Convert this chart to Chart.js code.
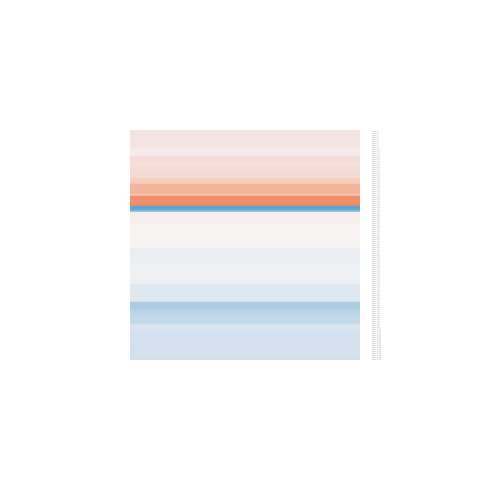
<!DOCTYPE html>
<html>
<head>
<meta charset="utf-8">
<script src="https://cdn.jsdelivr.net/npm/chart.js@4/dist/chart.umd.min.js"></script>
<style>
html,body{margin:0;padding:0;background:#fff;}
#wrap{width:480px;height:480px;}
</style>
</head>
<body>
<div id="wrap"><canvas id="c" width="480" height="480"></canvas></div>
<script>
// Row values (diverging, -1 = blue, +1 = red), top to bottom
const rowValues = [
  0.22,0.22,0.23,0.22,0.20,0.21,0.22,0.22,0.21,
  0.12,0.11,0.12,0.13,
  0.27,0.26,0.28,0.27,0.25,0.27,0.28,0.26,0.27,0.29,0.28,
  0.36,0.38,0.40,
  0.55,0.56,0.54,0.55,0.56,
  0.43,
  0.95,0.97,0.92,0.96,0.98,
  -1.00,-0.98,
  -0.80,
  0.08,0.08,0.09,0.07,0.08,0.08,
  0.03,0.02,0.02,0.01,0.02,0.03,0.02,0.01,0.02,0.02,0.03,0.02,
  -0.12,-0.12,-0.13,-0.12,-0.11,-0.12,-0.12,-0.13,
  -0.09,-0.09,-0.08,-0.09,-0.10,-0.09,-0.09,-0.08,-0.09,-0.09,
  -0.22,-0.22,-0.21,-0.22,-0.23,-0.22,-0.22,-0.21,-0.22,
  -0.50,-0.51,-0.50,-0.49,
  -0.42,-0.43,-0.42,
  -0.38,-0.38,-0.39,-0.38,
  -0.26,-0.26,-0.27,-0.26,
  -0.29,-0.29,-0.30,-0.29,-0.28,-0.29,-0.29,-0.30,-0.29,-0.29,-0.28,-0.29,-0.29,-0.30
];
// Row labels (one per row)
const rowLabels = rowValues.map((v, i) => 'item ' + (i + 1));

// diverging colour stops
const stops = [
  [-1.00, [90,166,210]],
  [-0.50, [171,205,227]],
  [-0.22, [223,232,240]],
  [ 0.00, [247,245,244]],
  [ 0.22, [244,227,223]],
  [ 0.55, [243,181,155]],
  [ 1.00, [240,138,99]]
];
function colorFor(v){
  if (v <= stops[0][0]) return 'rgb(' + stops[0][1].join(',') + ')';
  for (let i = 1; i < stops.length; i++){
    if (v <= stops[i][0]){
      const [v0,c0] = stops[i-1], [v1,c1] = stops[i];
      const t = (v - v0) / (v1 - v0);
      const c = c0.map((x,k) => Math.round(x + (c1[k]-x)*t));
      return 'rgb(' + c.join(',') + ')';
    }
  }
  return 'rgb(' + stops[stops.length-1][1].join(',') + ')';
}

new Chart(document.getElementById('c'), {
  type: 'bar',
  data: {
    labels: rowLabels,
    datasets: [{
      data: rowValues.map(() => [0, 1]),
      backgroundColor: rowValues.map(colorFor),
      borderWidth: 0,
      categoryPercentage: 1,
      barPercentage: 1
    }]
  },
  options: {
    indexAxis: 'y',
    responsive: false,
    animation: false,
    layout: { padding: { left: 130, top: 130, bottom: 120, right: 0 } },
    plugins: { legend: { display: false }, tooltip: { enabled: false } },
    scales: {
      x: { display: false, min: 0, max: 1 },
      y: {
        position: 'right',
        grid: { display: false, drawTicks: false },
        border: { display: false },
        ticks: {
          autoSkip: false,
          padding: 12,
          color: '#aaa',
          font: { size: 2, family: 'DejaVu Sans' }
        },
        afterFit: (s) => { s.width = 120; }
      }
    }
  }
});
</script>
</body>
</html>
